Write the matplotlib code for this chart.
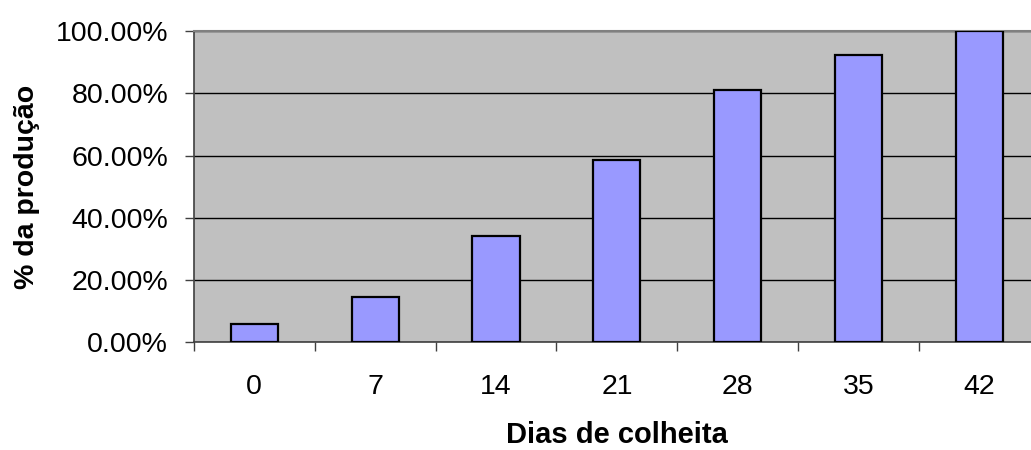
import numpy as np
import matplotlib
matplotlib.use("Agg")
import matplotlib.pyplot as plt
from matplotlib.ticker import FuncFormatter

# data
dias = ["0", "7", "14", "21", "28", "35", "42"]
producao = [5.8, 14.6, 34.1, 58.7, 81.2, 92.2, 100.0]

plt.rcParams['font.family'] = ['Liberation Sans', 'DejaVu Sans']

fig = plt.figure(figsize=(10.31, 4.5), dpi=100)
ax = fig.add_axes([0.1879, 0.2393, 0.8209, 0.6918])
ax.set_facecolor('#C0C0C0')

x = np.arange(len(dias))
ax.bar(x, producao, width=0.39, color='#9999FF', edgecolor='black',
       linewidth=1.6, zorder=3)

ax.set_xlim(-0.5, len(dias) - 0.5)
ax.set_ylim(0, 100)
ax.set_yticks(np.arange(0, 101, 20))
ax.yaxis.set_major_formatter(FuncFormatter(lambda v, p: f"{v:.2f}%"))
ax.grid(axis='y', color='black', linewidth=1.0, zorder=1)

# category labels in the middle, ticks at the boundaries
ax.set_xticks(x)
ax.set_xticklabels(dias)
ax.set_xticks(np.arange(-0.5, len(dias), 1), minor=True)
ax.tick_params(axis='x', which='major', length=0, pad=23, labelsize=20.5)
ax.tick_params(axis='x', which='minor', length=6.5, width=1, color='#404040')
ax.tick_params(axis='y', length=6.5, width=1, color='#404040', pad=12, labelsize=20.5)

for s in ['left', 'bottom']:
    ax.spines[s].set_color('#404040')
    ax.spines[s].set_linewidth(1.2)
ax.spines['top'].set_color('#808080')
ax.spines['top'].set_linewidth(1.5)
ax.spines['right'].set_visible(False)

ax.set_xlabel('Dias de colheita', fontsize=21, fontweight='bold', labelpad=15)
ax.set_ylabel('% da produção', fontsize=20.5, fontweight='bold', labelpad=11)

fig.savefig('out.png', dpi=100)
